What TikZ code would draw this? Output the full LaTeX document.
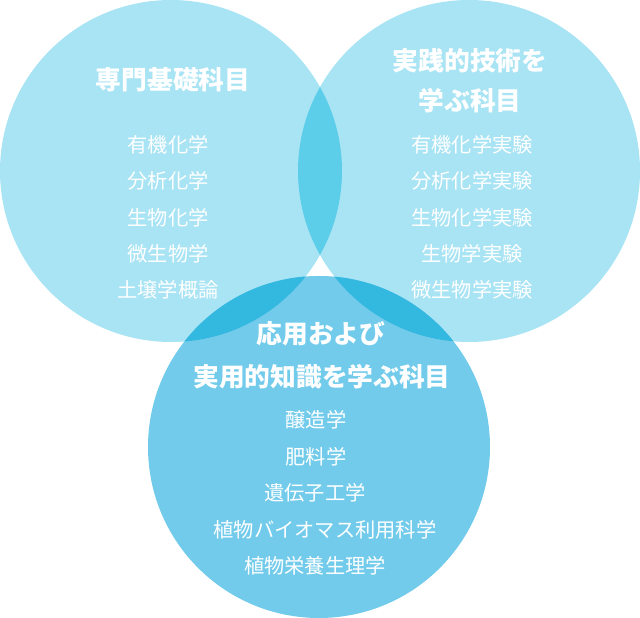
\documentclass[tikz,border=0pt]{standalone}
\usepackage{fontspec}
\newfontfamily\jpfont{Noto Sans CJK JP}
\definecolor{toplight}{HTML}{A9E4F4}
\definecolor{toplens}{HTML}{5DCEEA}
\definecolor{bottomfill}{HTML}{72CBEB}
\definecolor{bottomlens}{HTML}{33B8E0}
\tikzset{
  heading/.style={text=white,inner sep=0pt,font=\jpfont\bfseries\fontsize{18.3pt}{20pt}\selectfont},
  item/.style={text=white,inner sep=0pt,font=\jpfont\fontsize{14.4pt}{16pt}\selectfont}
}
\begin{document}
\begin{tikzpicture}[x=0.025cm,y=0.025cm]
\useasboundingbox (0,0) rectangle (640,618);

\begin{scope} % the two upper circles
  \fill[toplight] (171,447) circle (171);
  \fill[toplight] (469,447) circle (171);
  \begin{scope}
    \clip (171,447) circle (171);
    \fill[toplens] (469,447) circle (171);
  \end{scope}
\end{scope}

\begin{scope} % lower circle and its overlaps
  \fill[bottomfill] (319,171) circle (171);
  \begin{scope}
    \clip (319,171) circle (171);
    \fill[bottomlens] (171,447) circle (171);
    \fill[bottomlens] (469,447) circle (171);
  \end{scope}
\end{scope}

\begin{scope} % headings
  \node[heading] (basic) at (173,538) {専門基礎科目};
  \node[heading] (skillA) at (470,557) {実践的技術を};
  \node[heading] (skillB) at (470,517) {学ぶ科目};
  \node[heading] (applyA) at (321,284) {応用および};
  \node[heading] (applyB) at (322,241) {実用的知識を学ぶ科目};
\end{scope}

\begin{scope} % subject lists
  \foreach \t [count=\i] in {有機化学,分析化学,生物化学,微生物学,土壌学概論}
    \node[item] (basic\i) at (168,473-36.3*\i+36.3) {\t};
  \foreach \t [count=\i] in {有機化学実験,分析化学実験,生物化学実験,生物学実験,微生物学実験}
    \node[item] (skill\i) at (472,473-36.3*\i+36.3) {\t};
  \foreach \x/\t [count=\i] in {316/醸造学,316/肥料学,315/遺伝子工学,
      325/植物バイオマス利用科学,315/植物栄養生理学}
    \node[item] (apply\i) at (\x,198-36.5*\i+36.5) {\t};
\end{scope}

\end{tikzpicture}
\end{document}
